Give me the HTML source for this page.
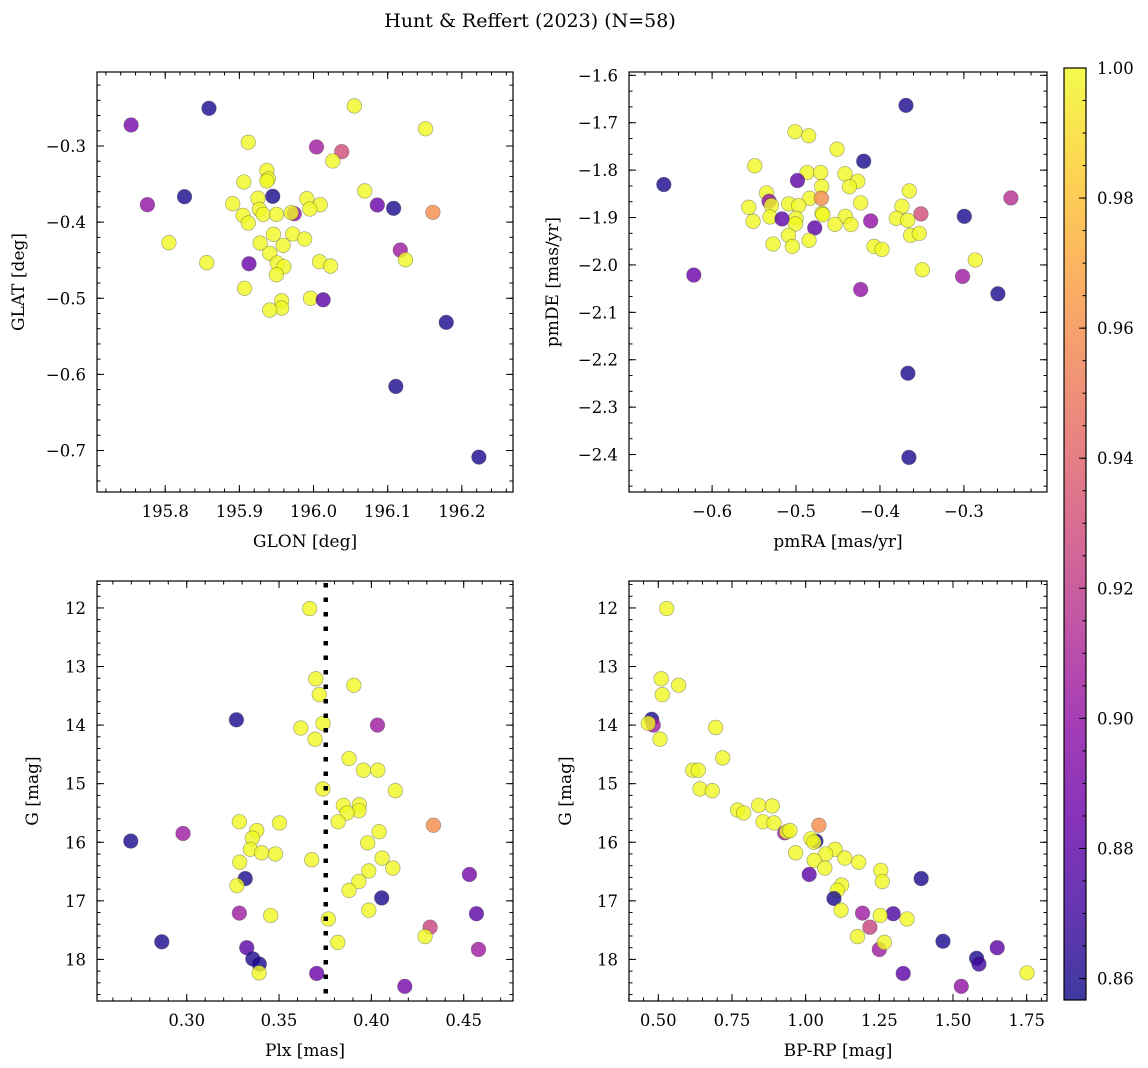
<!DOCTYPE html>
<html><head><meta charset="utf-8"><style>
body{margin:0;background:#fff}
svg{display:block;font-family:"DejaVu Serif","Liberation Serif",serif}
</style></head><body>
<svg id="fig" width="1148" height="1068" viewBox="0 0 1148 1068">
<defs>
<linearGradient id="cbg" x1="0" y1="1" x2="0" y2="0">
<stop offset="0" stop-color="#0d0887"/><stop offset="0.1" stop-color="#41049d"/><stop offset="0.2" stop-color="#6a00a8"/><stop offset="0.3" stop-color="#8f0da4"/><stop offset="0.4" stop-color="#b12a90"/><stop offset="0.5" stop-color="#cc4778"/><stop offset="0.6" stop-color="#e16462"/><stop offset="0.7" stop-color="#f2844b"/><stop offset="0.8" stop-color="#fca636"/><stop offset="0.9" stop-color="#fcce25"/><stop offset="1" stop-color="#f0f921"/>
</linearGradient>
</defs>
<text x="530" y="27" text-anchor="middle" font-size="19">Hunt &amp; Reffert (2023) (N=58)</text>
</svg>
<script>
// ---- data ----
const glon=[195.754,195.859,196.055,196.151,195.912,196.004,196.038,196.026,195.937,195.939,195.937,195.906,196.069,195.826,195.945,195.925,195.991,195.776,195.891,196.009,196.086,196.108,195.927,195.995,196.161,195.974,195.970,195.905,195.932,195.950,195.912,195.946,195.972,195.988,195.805,195.928,195.959,196.117,195.941,196.124,196.008,195.856,195.913,196.023,195.951,195.960,195.950,195.907,195.996,196.013,195.957,195.957,195.941,196.179,196.111,196.223];
const glat=[-0.2724,-0.2505,-0.2474,-0.2773,-0.2951,-0.3013,-0.3075,-0.3197,-0.332,-0.343,-0.346,-0.3473,-0.359,-0.3666,-0.3661,-0.3687,-0.3692,-0.3771,-0.3758,-0.3771,-0.3775,-0.3819,-0.3832,-0.3828,-0.3872,-0.389,-0.3876,-0.3911,-0.3898,-0.3898,-0.4012,-0.416,-0.4156,-0.4222,-0.427,-0.4275,-0.4305,-0.4367,-0.441,-0.4494,-0.452,-0.4533,-0.4547,-0.4577,-0.4537,-0.4586,-0.4691,-0.487,-0.5001,-0.502,-0.5033,-0.5129,-0.5155,-0.5317,-0.6158,-0.7087];
const probSky=[0.89,0.86,1,1,1,0.905,0.93,1,1,1,1,1,1,0.86,0.86,1,1,0.9,1,1,0.885,0.86,1,1,0.96,0.9,1,1,1,1,1,1,1,1,1,1,1,0.905,1,1,1,1,0.885,1,1,1,1,1,1,0.88,1,1,1,0.86,0.86,0.86];

const pmra=[-0.369,-0.6575,-0.5012,-0.4849,-0.4512,-0.4194,-0.5492,-0.4869,-0.4706,-0.4417,-0.4983,-0.4265,-0.4694,-0.4364,-0.365,-0.244,-0.5352,-0.4837,-0.4698,-0.5321,-0.5293,-0.5087,-0.4968,-0.423,-0.3738,-0.5563,-0.3512,-0.2995,-0.531,-0.469,-0.468,-0.5,-0.4412,-0.3805,-0.5167,-0.367,-0.4111,-0.5512,-0.5007,-0.4536,-0.4345,-0.4777,-0.509,-0.3635,-0.3531,-0.4845,-0.5274,-0.5043,-0.4071,-0.3976,-0.2864,-0.3495,-0.6218,-0.3016,-0.423,-0.2595,-0.3667,-0.3655];
const pmde=[-1.6634,-1.8304,-1.719,-1.7275,-1.7558,-1.7812,-1.7909,-1.805,-1.805,-1.8078,-1.822,-1.8234,-1.8347,-1.835,-1.8438,-1.8586,-1.848,-1.8594,-1.8594,-1.8657,-1.8748,-1.8713,-1.8748,-1.8691,-1.8763,-1.8784,-1.8924,-1.8975,-1.8987,-1.8911,-1.894,-1.9017,-1.8975,-1.9017,-1.903,-1.9059,-1.9072,-1.908,-1.9135,-1.9144,-1.915,-1.922,-1.9376,-1.9376,-1.9334,-1.9482,-1.9558,-1.9609,-1.9609,-1.9672,-1.9896,-2.0101,-2.0213,-2.0243,-2.0518,-2.0609,-2.2285,-2.4061];
const probPM=[0.86,0.86,1,1,1,0.86,1,1,1,1,0.88,1,1,1,1,0.915,1,1,0.96,0.9,1,1,1,1,1,1,0.93,0.86,1,1,1,1,1,1,0.88,1,0.9,1,1,1,1,0.88,1,1,1,1,1,1,1,1,1,1,0.885,0.905,0.9,0.86,0.86,0.86];

const plx=[0.3666,0.3699,0.3905,0.3718,0.3269,0.3738,0.4033,0.3618,0.3695,0.3879,0.3957,0.4035,0.3737,0.413,0.3848,0.3935,0.3933,0.3868,0.382,0.3285,0.3502,0.4336,0.3379,0.4042,0.298,0.3355,0.2697,0.398,0.3345,0.3406,0.348,0.4058,0.3677,0.3287,0.4116,0.3986,0.4531,0.3317,0.3932,0.3879,0.3272,0.4056,0.3986,0.3285,0.4569,0.3455,0.3767,0.4318,0.4291,0.2865,0.3818,0.3325,0.458,0.3358,0.3393,0.3392,0.3704,0.4181];
const gPlx=[12.01,13.21,13.32,13.48,13.91,13.97,14.0,14.05,14.24,14.57,14.77,14.77,15.09,15.12,15.37,15.36,15.46,15.5,15.65,15.65,15.67,15.71,15.8,15.82,15.85,15.93,15.98,16.01,16.12,16.18,16.2,16.27,16.3,16.34,16.44,16.49,16.55,16.62,16.67,16.82,16.74,16.95,17.16,17.21,17.22,17.25,17.31,17.45,17.61,17.7,17.71,17.8,17.83,17.99,18.08,18.23,18.24,18.46];
const probPlx=[1,1,1,1,0.86,1,0.905,1,1,1,1,1,1,1,1,1,1,1,1,1,1,0.96,1,1,0.905,1,0.86,1,1,1,1,1,1,1,1,1,0.89,0.86,1,1,1,0.86,1,0.905,0.88,1,1,0.925,1,0.86,1,0.88,0.905,0.86,0.86,1,0.885,0.89];
const plxLine=0.3753;

const bprp=[0.5285,0.510,0.5692,0.5136,0.4776,0.483,0.466,0.6947,0.5058,0.7185,0.6167,0.6357,0.6415,0.6832,0.7693,0.7897,0.8406,0.8867,0.8552,0.8925,1.045,0.9288,0.9356,0.9467,1.035,1.018,1.028,0.966,1.1,1.068,1.133,1.029,1.18,1.065,1.255,1.012,1.392,1.26,1.122,1.107,1.096,1.12,1.193,1.297,1.253,1.344,1.218,1.176,1.466,1.25,1.267,1.65,1.58,1.588,1.751,1.331,1.528];
const gCmd=[12.01,13.21,13.32,13.48,13.9,14.0,13.97,14.04,14.24,14.56,14.77,14.77,15.09,15.12,15.45,15.5,15.37,15.38,15.65,15.67,15.71,15.84,15.82,15.8,15.98,15.94,16.0,16.18,16.12,16.2,16.27,16.31,16.34,16.44,16.48,16.55,16.62,16.67,16.73,16.82,16.96,17.16,17.21,17.22,17.25,17.31,17.45,17.61,17.69,17.83,17.71,17.8,17.98,18.08,18.23,18.24,18.46];
const probCmd=[1,1,1,1,0.86,0.905,1,1,1,1,1,1,1,1,1,1,1,1,1,1,0.96,0.905,1,1,0.86,1,1,1,1,1,1,1,1,1,1,0.88,0.86,1,1,1,0.86,1,0.905,0.875,1,1,0.925,1,0.86,0.905,1,0.88,0.86,0.87,1,0.88,0.9];

const cbTicks=[1.00,0.98,0.96,0.94,0.92,0.90,0.88,0.86];
const cbMin=0.8567, cbMax=1.0;

// ---- helpers ----
const NS="http://www.w3.org/2000/svg";
const svg=document.getElementById('fig');
function mk(tag,attrs,parent){const e=document.createElementNS(NS,tag);for(const k in attrs)e.setAttribute(k,attrs[k]);(parent||svg).appendChild(e);return e;}
const stops=[[13,8,135],[65,4,157],[106,0,168],[143,13,164],[177,42,144],[204,71,120],[225,100,98],[242,132,75],[252,166,54],[252,206,37],[240,249,33]];
function plasma(v){let t=(v-cbMin)/(cbMax-cbMin);t=Math.max(0,Math.min(1,t));const f=t*10,i=Math.min(9,Math.floor(f)),r=f-i;const a=stops[i],b=stops[i+1];return 'rgb('+a.map((c,k)=>Math.round(c+(b[k]-c)*r)).join(',')+')';}
function fmt(v,d){return (v<0?'\u2212':'')+Math.abs(v).toFixed(d);}

function panel(cfg){
  const g=mk('g',{});
  
  
  const {x0,x1,y0,y1,xd,yd}=cfg;
  const sx=v=>x0+(v-xd[0])/(xd[1]-xd[0])*(x1-x0);
  const sy=v=>y0+(v-yd[0])/(yd[1]-yd[0])*(y1-y0);
  const clipId='clip'+cfg.name;
  const cp=mk('clipPath',{id:clipId},g);mk('rect',{x:x0,y:y0,width:x1-x0,height:y1-y0},cp);
  const pts=mk('g',{'clip-path':'url(#'+clipId+')'},g);
  for(let i=0;i<cfg.xs.length;i++){
    const c=mk('circle',{cx:sx(cfg.xs[i]),cy:sy(cfg.ys[i]),r:7.3,fill:plasma(cfg.ps[i]),'fill-opacity':0.8,stroke:'#444','stroke-opacity':0.45,'stroke-width':0.7},pts);
    
    
  }
  if(cfg.vline!==undefined){
    const l=mk('line',{x1:sx(cfg.vline),x2:sx(cfg.vline),y1:y0+2,y2:y1,stroke:'#000','stroke-width':4.5,'stroke-dasharray':'4.5 10'},pts);
    
    
  }
  // ticks
  const tk=mk('g',{stroke:'#000','stroke-width':1},g);
  for(let v=cfg.xmin0;v<=xd[1]+1e-9;v+=cfg.xminor){const X=sx(v);if(X<x0-0.5||X>x1+0.5)continue;mk('line',{x1:X,x2:X,y1:y1,y2:y1-3.5},tk);mk('line',{x1:X,x2:X,y1:y0,y2:y0+3.5},tk);}
  for(let v=cfg.ymin0;v<=Math.max(yd[0],yd[1])+1e-9;v+=cfg.yminor){const Y=sy(v);if(Y<y0-0.5||Y>y1+0.5)continue;mk('line',{x1:x0,x2:x0+3.5,y1:Y,y2:Y},tk);mk('line',{x1:x1,x2:x1-3.5,y1:Y,y2:Y},tk);}
  cfg.xt.forEach(v=>{const X=sx(v);mk('line',{x1:X,x2:X,y1:y1,y2:y1-7},tk);mk('line',{x1:X,x2:X,y1:y0,y2:y0+7},tk);
    const t=mk('text',{x:X,y:y1+25,'text-anchor':'middle','font-size':16.5},g);t.textContent=fmt(v,cfg.xdp);
    
    });
  cfg.yt.forEach(v=>{const Y=sy(v);mk('line',{x1:x0,x2:x0+7,y1:Y,y2:Y},tk);mk('line',{x1:x1,x2:x1-7,y1:Y,y2:Y},tk);
    const t=mk('text',{x:x0-11,y:Y+6,'text-anchor':'end','font-size':16.5},g);t.textContent=fmt(v,cfg.ydp);
    
    });
  mk('rect',{x:x0,y:y0,width:x1-x0,height:y1-y0,fill:'none',stroke:'#000','stroke-width':1.2},g);
  const xl=mk('text',{x:(x0+x1)/2,y:y1+55,'text-anchor':'middle','font-size':17},g);xl.textContent=cfg.xlab;
  
  
  const yl=mk('text',{x:cfg.ylx,y:(y0+y1)/2,'text-anchor':'middle','font-size':17,transform:'rotate(-90 '+cfg.ylx+' '+((y0+y1)/2)+')'},g);yl.textContent=cfg.ylab;
  
  
}

panel({name:'sky-position-panel',x0:97,x1:513,y0:72,y1:492,xd:[195.708,196.269],yd:[-0.2028,-0.7545],xs:glon,ys:glat,ps:probSky,
  xt:[195.8,195.9,196.0,196.1,196.2],yt:[-0.3,-0.4,-0.5,-0.6,-0.7],xdp:1,ydp:1,xminor:0.02,xmin0:195.70,yminor:0.02,ymin0:-0.76,xlab:'GLON [deg]',ylab:'GLAT [deg]',ylx:24});
panel({name:'proper-motion-panel',x0:629,x1:1047,y0:72,y1:492,xd:[-0.699,-0.201],yd:[-1.593,-2.479],xs:pmra,ys:pmde,ps:probPM,
  xt:[-0.6,-0.5,-0.4,-0.3],yt:[-1.6,-1.7,-1.8,-1.9,-2.0,-2.1,-2.2,-2.3,-2.4],xdp:1,ydp:1,xminor:0.02,xmin0:-0.70,yminor:0.1/3,ymin0:-2.5,xlab:'pmRA [mas/yr]',ylab:'pmDE [mas/yr]',ylx:558});
panel({name:'parallax-magnitude-panel',x0:97,x1:513,y0:581,y1:1001,xd:[0.2514,0.4767],yd:[11.54,18.71],xs:plx,ys:gPlx,ps:probPlx,vline:plxLine,
  xt:[0.30,0.35,0.40,0.45],yt:[12,13,14,15,16,17,18],xdp:2,ydp:0,xminor:0.01,xmin0:0.25,yminor:0.2,ymin0:11.4,xlab:'Plx [mas]',ylab:'G [mag]',ylx:38});
panel({name:'color-magnitude-panel',x0:629,x1:1047,y0:581,y1:1001,xd:[0.4006,1.8189],yd:[11.54,18.71],xs:bprp,ys:gCmd,ps:probCmd,
  xt:[0.50,0.75,1.00,1.25,1.50,1.75],yt:[12,13,14,15,16,17,18],xdp:2,ydp:0,xminor:0.05,xmin0:0.40,yminor:0.2,ymin0:11.4,xlab:'BP-RP [mag]',ylab:'G [mag]',ylx:571});

// colorbar
(function(){
  const x0=1064,x1=1086,y0=68,y1=1000;
  const g=mk('g',{});
  
  
  mk('rect',{x:x0,y:y0,width:x1-x0,height:y1-y0,fill:'url(#cbg)','fill-opacity':0.8},g);
  const sy=v=>y0+(cbMax-v)/(cbMax-cbMin)*(y1-y0);
  for(let v=0.86;v<=1.0001;v+=0.005){const Y=sy(v);mk('line',{x1:x1,x2:x1-3.5,y1:Y,y2:Y,stroke:'#000'},g);}
  cbTicks.forEach(v=>{const Y=sy(v);mk('line',{x1:x1,x2:x1-7,y1:Y,y2:Y,stroke:'#000'},g);
    const t=mk('text',{x:x1+11,y:Y+6,'font-size':16.5},g);t.textContent=v.toFixed(2);
    
    });
  mk('rect',{x:x0,y:y0,width:x1-x0,height:y1-y0,fill:'none',stroke:'#000','stroke-width':1.2},g);
})();
</script>
</body></html>
